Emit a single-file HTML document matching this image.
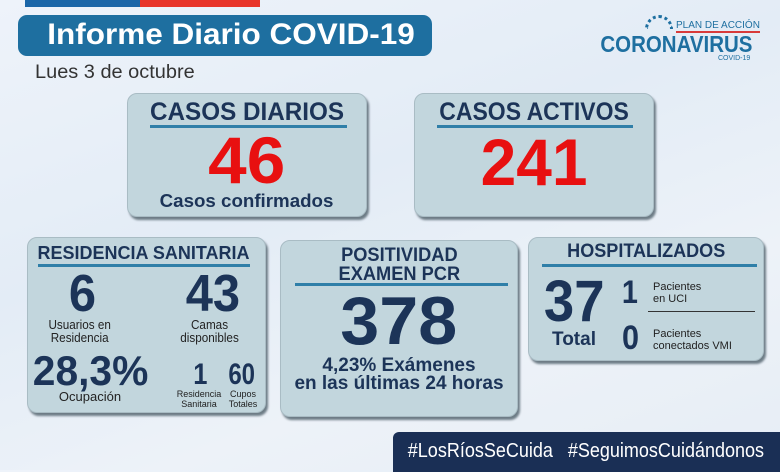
<!DOCTYPE html>
<html><head><meta charset="utf-8"><style>
*{margin:0;padding:0;box-sizing:border-box}
body{width:780px;height:470px;overflow:hidden;position:relative;font-family:"Liberation Sans",sans-serif;
background:linear-gradient(160deg,#eef3fa 0%,#e3ecf6 40%,#edf2f8 70%,#e6edf5 100%);}
.a{position:absolute;white-space:nowrap}
.c{text-align:center}
.box{position:absolute;background:#c2d6dd;border-radius:10px;box-shadow:2px 3px 2px #6d7c86;border:1px solid #a9bcc4}
.dk{color:#1c3458;font-weight:bold}
.ln{position:absolute;height:3px;background:#2f7fa8}
.s{display:inline-block}
</style></head><body>
<div class="a" style="left:25px;top:0;width:115px;height:7px;background:#1b66a8"></div>
<div class="a" style="left:140px;top:0;width:120px;height:7px;background:#e8352a"></div>
<div class="a" style="left:18px;top:15px;width:414px;height:41px;background:#1e6fa0;border-radius:9px"></div>
<div class="a" style="left:36px;top:16px;width:390px;color:#fff;font-weight:bold;font-size:30px;line-height:38px;text-align:center"><span class="s" style="transform:scaleX(1.05)">Informe Diario COVID-19</span></div>
<div class="a" style="left:35px;top:62px;font-size:19px;color:#333;line-height:22px"><span class="s" style="transform:scaleX(1.05);transform-origin:left">Lues 3 de octubre</span></div>
<!-- logo -->
<div class="a" style="left:645px;top:15px;width:28px;height:14px;border-radius:14px 14px 0 0;border:3px dotted #1e6fa0;border-bottom:none"></div>
<div class="a" style="left:676px;top:20px;font-size:10px;color:#1e6fa0;border-bottom:2px solid #d83a3a;line-height:11px">PLAN DE ACCIÓN</div>
<div class="a c" style="left:576px;top:32px;width:200px;font-size:23px;font-weight:bold;color:#1e6fa0;line-height:24px"><span class="s" style="transform:scaleX(.89)">CORONAVIRUS</span></div>
<div class="a" style="left:718px;top:55px;font-size:7px;color:#1e6fa0">COVID-19</div>
<!-- box1 -->
<div class="box" style="left:127px;top:93px;width:240px;height:124px"></div>
<div class="a dk c" style="left:127px;top:98px;width:240px;font-size:25px;line-height:28px"><span class="s" style="transform:scaleX(.97)">CASOS DIARIOS</span></div>
<div class="ln" style="left:150px;top:125px;width:197px"></div>
<div class="a c" style="left:127px;top:127px;width:240px;font-size:66px;line-height:66px;color:#e81010;font-weight:bold"><span class="s" style="transform:scaleX(1.05)">46</span></div>
<div class="a dk c" style="left:127px;top:191px;width:240px;font-size:18px;line-height:20px"><span class="s" style="transform:scaleX(1.04)">Casos confirmados</span></div>
<!-- box2 -->
<div class="box" style="left:414px;top:93px;width:240px;height:124px"></div>
<div class="a dk c" style="left:414px;top:98px;width:240px;font-size:25px;line-height:28px"><span class="s" style="transform:scaleX(.92)">CASOS ACTIVOS</span></div>
<div class="ln" style="left:437px;top:125px;width:196px"></div>
<div class="a c" style="left:414px;top:129px;width:240px;font-size:66px;line-height:66px;color:#e81010;font-weight:bold"><span class="s" style="transform:scaleX(.97)">241</span></div>
<!-- box3 -->
<div class="box" style="left:27px;top:237px;width:239px;height:176px"></div>
<div class="a dk c" style="left:27px;top:243px;width:233px;font-size:18px;line-height:20px"><span class="s" style="transform:scaleX(1.0)">RESIDENCIA SANITARIA</span></div>
<div class="ln" style="left:38px;top:264px;width:212px"></div>
<div class="a dk c" style="left:47px;top:268px;width:70px;font-size:52px;line-height:52px"><span class="s" style="transform:scaleX(.94)">6</span></div>
<div class="a dk c" style="left:175px;top:268px;width:75px;font-size:52px;line-height:52px"><span class="s" style="transform:scaleX(.94)">43</span></div>
<div class="a c" style="left:40px;top:318px;width:80px;font-size:13px;line-height:13px;color:#222"><span class="s" style="transform:scaleX(.9)">Usuarios en<br>Residencia</span></div>
<div class="a c" style="left:170px;top:318px;width:80px;font-size:13px;line-height:13px;color:#222"><span class="s" style="transform:scaleX(.9)">Camas<br>disponibles</span></div>
<div class="a dk c" style="left:28px;top:350px;width:126px;font-size:42px;line-height:42px"><span class="s" style="transform:scaleX(.97)">28,3%</span></div>
<div class="a c" style="left:40px;top:389px;width:100px;font-size:13px;color:#222">Ocupación</div>
<div class="a dk c" style="left:180px;top:360px;width:40px;font-size:30px;line-height:30px"><span class="s" style="transform:scaleX(.85)">1</span></div>
<div class="a dk c" style="left:222px;top:360px;width:40px;font-size:30px;line-height:30px"><span class="s" style="transform:scaleX(.8)">60</span></div>
<div class="a c" style="left:168px;top:389px;width:62px;font-size:9px;line-height:10px;color:#222">Residencia<br>Sanitaria</div>
<div class="a c" style="left:224px;top:389px;width:38px;font-size:9px;line-height:10px;color:#222">Cupos<br>Totales</div>
<!-- box4 -->
<div class="box" style="left:280px;top:240px;width:238px;height:177px"></div>
<div class="a dk c" style="left:280px;top:246px;width:238px;font-size:19px;line-height:19px"><span class="s" style="transform:scaleX(.96)">POSITIVIDAD<br>EXAMEN PCR</span></div>
<div class="ln" style="left:295px;top:283px;width:213px"></div>
<div class="a dk c" style="left:280px;top:287px;width:238px;font-size:68px;line-height:68px"><span class="s" style="transform:scaleX(1.03)">378</span></div>
<div class="a dk c" style="left:280px;top:357px;width:238px;font-size:19px;line-height:18px">4,23% Exámenes<br>en las últimas 24 horas</div>
<!-- box5 -->
<div class="box" style="left:528px;top:237px;width:236px;height:124px"></div>
<div class="a dk c" style="left:528px;top:242px;width:236px;font-size:19px;line-height:20px"><span class="s" style="transform:scaleX(.95)">HOSPITALIZADOS</span></div>
<div class="ln" style="left:542px;top:264px;width:215px"></div>
<div class="a dk c" style="left:538px;top:273px;width:72px;font-size:58px;line-height:58px"><span class="s" style="transform:scaleX(.94)">37</span></div>
<div class="a dk c" style="left:538px;top:330px;width:72px;font-size:19px;line-height:20px">Total</div>
<div class="a dk c" style="left:615px;top:276px;width:30px;font-size:32px;line-height:32px"><span class="s" style="transform:scaleX(.9)">1</span></div>
<div class="a dk c" style="left:615px;top:321px;width:30px;font-size:34px;line-height:34px"><span class="s" style="transform:scaleX(.9)">0</span></div>
<div class="a" style="left:653px;top:281px;font-size:11px;line-height:12px;color:#222">Pacientes<br>en UCI</div>
<div class="a" style="left:648px;top:311px;width:107px;height:1px;background:#333"></div>
<div class="a" style="left:653px;top:328px;font-size:11px;line-height:12px;color:#222">Pacientes<br>conectados VMI</div>
<!-- bottom -->
<div class="a" style="left:393px;top:432px;width:392px;height:40px;background:#1a2f55;border-radius:6px 0 0 0"></div>
<div class="a c" style="left:386px;top:438px;width:400px;font-size:20px;color:#fff;line-height:26px"><span class="s" style="transform:scaleX(.9)">#LosRíosSeCuida&nbsp;&nbsp;&nbsp;#SeguimosCuidándonos</span></div>
</body></html>
